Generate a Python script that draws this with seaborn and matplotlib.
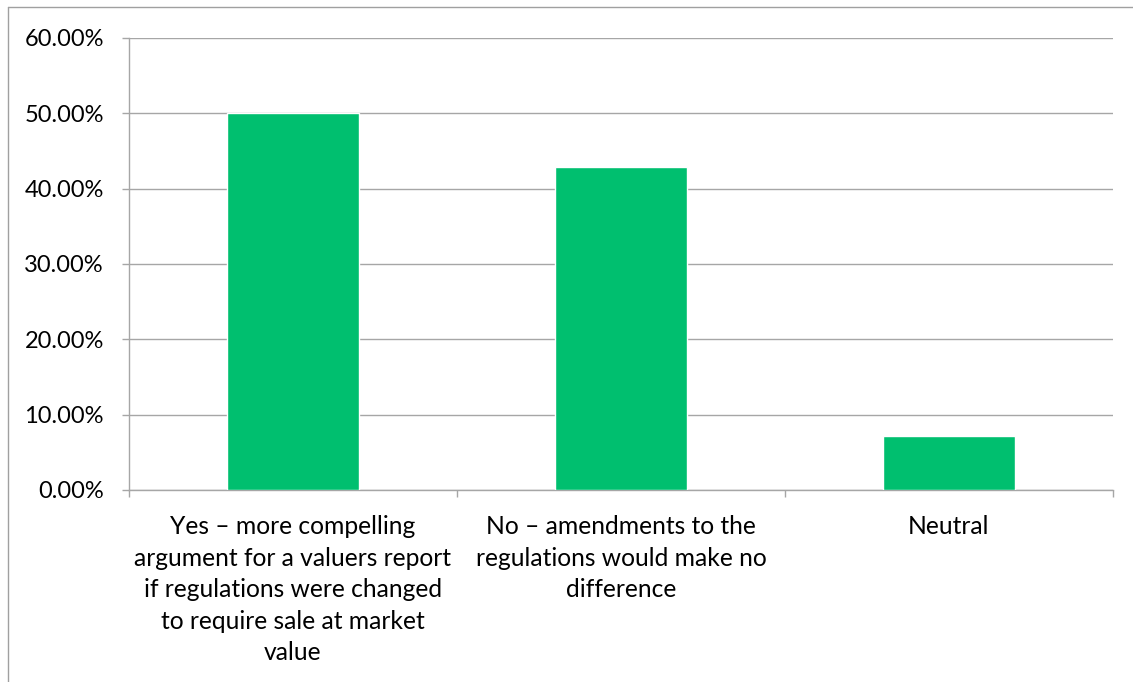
import matplotlib
matplotlib.use("Agg")
import matplotlib.pyplot as plt
import seaborn as sns
import pandas as pd
from matplotlib.ticker import FuncFormatter, FixedLocator
from matplotlib.lines import Line2D

categories = [
    "Yes – more compelling\nargument for a valuers report\nif regulations were changed\nto require sale at market\nvalue",
    "No – amendments to the\nregulations would make no\ndifference",
    "Neutral",
]
shares = [50.00, 42.86, 7.14]
y_ticks = [0, 10, 20, 30, 40, 50, 60]

sns.set_theme(style="white")
plt.rcParams["font.family"] = ["Lato", "DejaVu Sans"]

W, H = 1133, 682
fig = plt.figure(figsize=(W / 100, H / 100), dpi=100)
ax = fig.add_axes([129 / W, 1 - 490 / H, (1113 - 129) / W, (490 - 38) / H])

df = pd.DataFrame({"category": categories, "share": shares})
sns.barplot(data=df, x="category", y="share", color="#00BF6F", saturation=1,
            width=0.4, ax=ax, zorder=3)

ax.set_ylim(0, 60)
ax.set_xlim(-0.5, 2.5)
ax.yaxis.set_major_locator(FixedLocator(y_ticks))
ax.yaxis.set_major_formatter(FuncFormatter(lambda v, p: f"{v:.2f}%"))
ax.grid(axis="y", color="#A6A6A6", linewidth=1.0, zorder=0)
ax.set_axisbelow(True)
ax.set_xlabel("")
ax.set_ylabel("")

for side in ("top", "right"):
    ax.spines[side].set_visible(False)
for side in ("left", "bottom"):
    ax.spines[side].set_color("#A6A6A6")
    ax.spines[side].set_linewidth(1.0)

ax.tick_params(axis="y", which="major", length=5, width=1, color="#A6A6A6",
               pad=13, labelsize=17, labelcolor="black", left=True)
ax.set_xticks([0, 1, 2])
ax.set_xticklabels(categories, fontsize=17.7, color="black", linespacing=1.45)
ax.tick_params(axis="x", which="major", length=0, pad=18)
ax.set_xticks([-0.5, 0.5, 1.5, 2.5], minor=True)
ax.tick_params(axis="x", which="minor", length=5, width=1, color="#A6A6A6",
               bottom=True)

# chart-area frame
frame_color = "#A0A0A0"
fig.add_artist(Line2D([8 / W, 1.0], [1 - 7 / H, 1 - 7 / H],
                      transform=fig.transFigure, color=frame_color, linewidth=1.0))
fig.add_artist(Line2D([8 / W, 8 / W], [0.0, 1 - 7 / H],
                      transform=fig.transFigure, color=frame_color, linewidth=1.0))

fig.savefig("out.png", dpi=100, facecolor="white")
